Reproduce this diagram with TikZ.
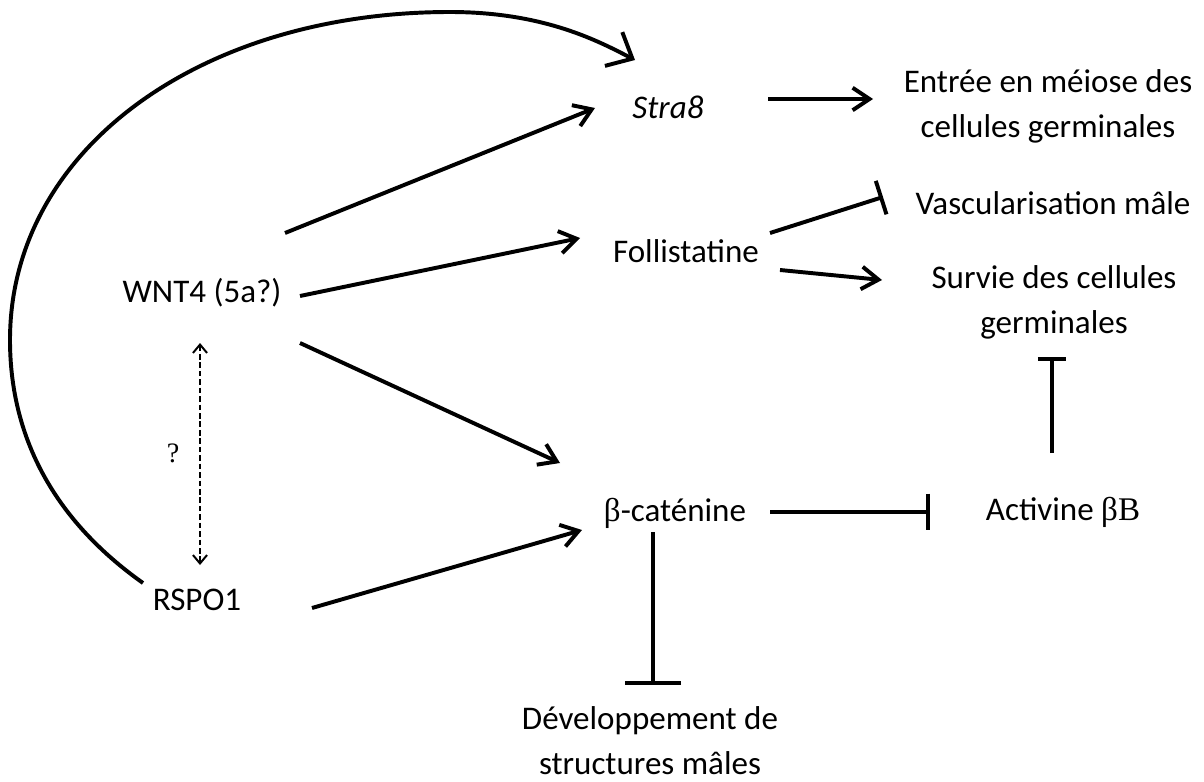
\documentclass[tikz,border=0pt]{standalone}
\usepackage{fontspec}
\setmainfont{Carlito}
\newfontfamily\grk{Liberation Serif}
\usepackage{tikz}
\usetikzlibrary{arrows.meta, positioning, calc}

\tikzset{
  lbl/.style={inner sep=0pt, align=center, font=\fontsize{23.5}{32}\selectfont},
  act/.style={line width=2.8pt, -{Straight Barb[length=12pt, width=16pt, line width=2.8pt]}},
  inh/.style={line width=2.8pt, -{Bar[width=#1, line width=2.8pt]}},
  qtip/.tip={Straight Barb[length=6pt, width=10pt, line width=1.4pt]},
}

\begin{document}
\begin{tikzpicture}[x=0.025cm, y=-0.025cm]
  \useasboundingbox (0,0) rectangle (1204,782);
  % genes and effects
  \node[lbl] (stra) at (668,107) {\textit{Stra8}};
  \node[lbl] (entree) at (1048,106) {Entrée en méiose des\\cellules germinales};
  \node[lbl] (vasc) at (1053,203) {Vascularisation mâle};
  \node[lbl] (follis) at (686,251) {Follistatine};
  \node[lbl] (survie) at (1054,302) {Survie des cellules\\germinales};
  \node[lbl] (wnt) at (202,293) {WNT4 (5a?)};
  \node[lbl] (rspo) at (197,600) {RSPO1};
  \node[lbl] (bcat) at (675,513) {{\grk β}-caténine};
  \node[lbl] (activ) at (1063,512) {Activine {\grk βB}};
  \node[lbl] (devel) at (650,741) {Développement de\\structures mâles};
  \node[inner sep=0pt, font=\grk\fontsize{20}{24}\selectfont] (qm) at (173,453) {?};

  % activations
  \draw[act] ($(wnt)+(83,-60)$) -- ($(stra)+(-73,1)$);
  \draw[act] ($(wnt)+(98,3)$) -- ($(follis)+(-106,-13)$);
  \draw[act] ($(wnt)+(98,50)$) -- ($(bcat)+(-115,-50)$);
  \draw[act] ($(rspo)+(115,8)$) -- ($(bcat)+(-93,17)$);
  \draw[act] ($(stra)+(100,-8)$) -- ($(entree)+(-175,-7)$);
  \draw[act] ($(follis)+(94,19)$) -- ($(survie)+(-172,-22)$);

  % inhibitions
  \draw[inh=25pt] ($(follis)+(84,-18)$) -- ($(vasc)+(-170,-6)$);
  \draw[inh=26pt] ($(bcat)+(95,-1)$) -- ($(activ)+(-133,0)$);
  \draw[inh=20pt] ($(activ)+(-11,-59)$) -- ($(survie)+(-2,55)$);
  \draw[inh=40pt] ($(bcat)+(-22,19)$) -- ($(devel)+(3,-56)$);

  % RSPO1 to Stra8
  \draw[line width=2.8pt, -{Straight Barb[length=15pt, width=27pt, line width=2.8pt]}]
    ($(rspo)+(-54,-17)$) .. controls (40,510) and (10,420) .. (10,340)
    .. controls (10,150) and (200,12) .. (450,12)
    .. controls (545,12) and (600,42) .. ($(stra)+(-33,-47)$);

  % WNT4 <-> RSPO1
  \draw[line width=1.4pt, dash pattern=on 4pt off 2pt, {qtip}-{qtip}]
    ($(wnt)+(-2,50)$) -- ($(rspo)+(3,-35)$);
\end{tikzpicture}
\end{document}
